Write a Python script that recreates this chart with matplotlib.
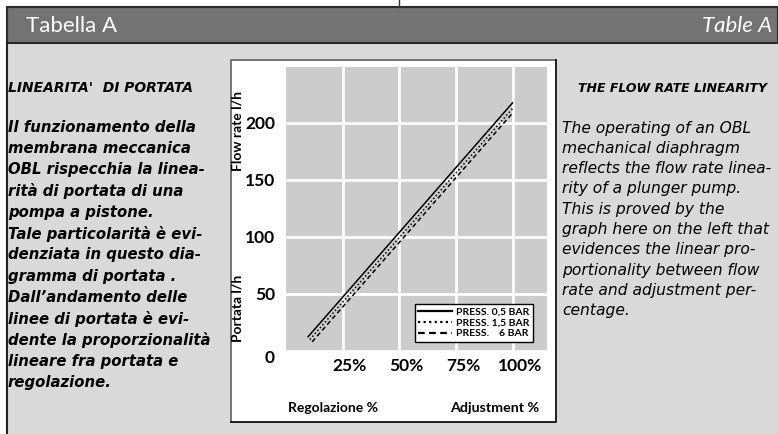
import matplotlib.pyplot as plt
import matplotlib.transforms as mtransforms
from matplotlib.patches import Rectangle
from matplotlib.lines import Line2D

plt.rcParams['font.family'] = ['Lato', 'DejaVu Sans']

# regolazione % / portata l/h
adj_05 = [9.5, 100]
flow_05 = [12, 218]
adj_15 = [10.5, 100]
flow_15 = [10, 213]
adj_6 = [11.5, 100]
flow_6 = [8, 209]
press_labels = ['PRESS. 0,5 BAR', 'PRESS. 1,5 BAR', 'PRESS.    6 BAR']

x_ticks = [25, 50, 75, 100]
x_tick_labels = ['25%', '50%', '75%', '100%']
y_ticks = [0, 50, 100, 150, 200]

title_it = "LINEARITA'  DI PORTATA"
text_it = [
    'Il funzionamento della',
    'membrana meccanica',
    'OBL rispecchia la linea-',
    'rità di portata di una',
    'pompa a pistone.',
    'Tale particolarità è evi-',
    'denziata in questo dia-',
    'gramma di portata .',
    'Dall\u2019andamento delle',
    'linee di portata è evi-',
    'dente la proporzionalità',
    'lineare fra portata e',
    'regolazione.',
]
title_en = 'THE FLOW RATE LINEARITY'
text_en = [
    'The operating of an OBL',
    'mechanical diaphragm',
    'reflects the flow rate linea-',
    'rity of a plunger pump.',
    'This is proved by the',
    'graph here on the left that',
    'evidences the linear pro-',
    'portionality between flow',
    'rate and adjustment per-',
    'centage.',
]

W, H = 778, 434
fig = plt.figure(figsize=(W / 100, H / 100), dpi=100)

# page background, drawn in pixel coordinates
bg = fig.add_axes([0, 0, 1, 1])
bg.set_xlim(0, W)
bg.set_ylim(H, 0)
bg.axis('off')
bg.add_patch(Rectangle((7, 43), W - 7, H - 43, fc='#d9d9d9', ec='none'))
bg.plot([7, 7], [43, H], color='#222222', lw=1.5)
bg.add_patch(Rectangle((7, 7), W - 7, 36, fc='#737373', ec='#2a2a2a', lw=1.5))
bg.plot([399, 399], [0, 7], color='#333333', lw=1)
bg.text(26, 26, 'Tabella A', color='white', fontsize=16, va='center', ha='left')
bg.text(772, 26, 'Table A', color='white', fontsize=16, style='italic',
        va='center', ha='right')

# white panel behind the chart
bg.add_patch(Rectangle((231, 60), 325, 362, fc='white', ec='none'))
bg.plot([231, 231, 556], [422, 60, 60], color='#6a6a6a', lw=1.3)
bg.plot([231, 556, 556], [422, 422, 60], color='#111111', lw=1.3)

body_font = ['DejaVu Sans']

# italian column
bg.text(8, 88, title_it, family=body_font, fontsize=10, weight='bold',
        style='italic', va='center')
for i, line in enumerate(text_it):
    bg.text(8, 127 + i * 21.3, line, family=body_font, fontsize=10.7,
            weight='bold', style='italic', va='center')

# english column
bg.text(578, 88, title_en, family=body_font, fontsize=9, weight='bold',
        style='italic', va='center')
for i, line in enumerate(text_en):
    bg.text(562, 128 + i * 20.3, line, family=body_font, fontsize=11.2,
            style='italic', va='center')

# axis titles
bg.text(238, 131, 'Flow rate l/h', rotation=90, fontsize=10, weight='bold',
        ha='center', va='center')
bg.text(238, 308, 'Portata l/h', rotation=90, fontsize=10, weight='bold',
        ha='center', va='center')
bg.text(288, 408, 'Regolazione %', fontsize=10, weight='bold', ha='left', va='center')
bg.text(539, 408, 'Adjustment %', fontsize=10.3, weight='bold', ha='right', va='center')

# chart
ax = fig.add_axes([286 / W, (H - 351) / H, 261 / W, 284 / H])
ax.set_facecolor('#cccccc')
ax.plot(adj_05, flow_05, color='black', lw=1.1, solid_capstyle='butt')
ax.plot(adj_15, flow_15, color='black', lw=1.1, linestyle=(0, (1, 1.5)))
ax.plot(adj_6, flow_6, color='black', lw=1.1, linestyle=(0, (3, 2)))
ax.set_xlim(0, 115)
ax.set_ylim(0, 249)
ax.set_xticks(x_ticks)
ax.set_xticklabels(x_tick_labels)
ax.set_yticks(y_ticks)
ax.grid(True, color='white', lw=2)
ax.set_axisbelow(True)
for s in ax.spines.values():
    s.set_visible(False)
ax.tick_params(length=0, labelsize=12.5)
ax.tick_params(axis='x', pad=5)
ax.tick_params(axis='y', pad=8)
for lbl in ax.get_xticklabels() + ax.get_yticklabels():
    lbl.set_fontweight('bold')

# percent sign hangs to the right of the number, "0" sits a little lower
for lbl in ax.get_xticklabels():
    lbl.set_transform(lbl.get_transform() +
                      mtransforms.ScaledTranslation(5 / 72, 0, fig.dpi_scale_trans))
y0 = ax.get_yticklabels()[0]
y0.set_transform(y0.get_transform() +
                 mtransforms.ScaledTranslation(0, -4 / 72, fig.dpi_scale_trans))

handles = [
    Line2D([], [], color='black', lw=1.6),
    Line2D([], [], color='black', lw=1.6, linestyle=(0, (1, 1.5))),
    Line2D([], [], color='black', lw=1.6, linestyle=(0, (3, 2))),
]
leg = ax.legend(handles, press_labels, loc='lower right',
                bbox_to_anchor=(0.946, 0.032), fancybox=False, framealpha=1,
                edgecolor='black', prop={'size': 7.5, 'weight': 'bold'},
                handlelength=3.2, handletextpad=0.4, labelspacing=0.15,
                borderpad=0.35, borderaxespad=0)
leg.get_frame().set_linewidth(1)

fig.savefig('out.png', dpi=100)
